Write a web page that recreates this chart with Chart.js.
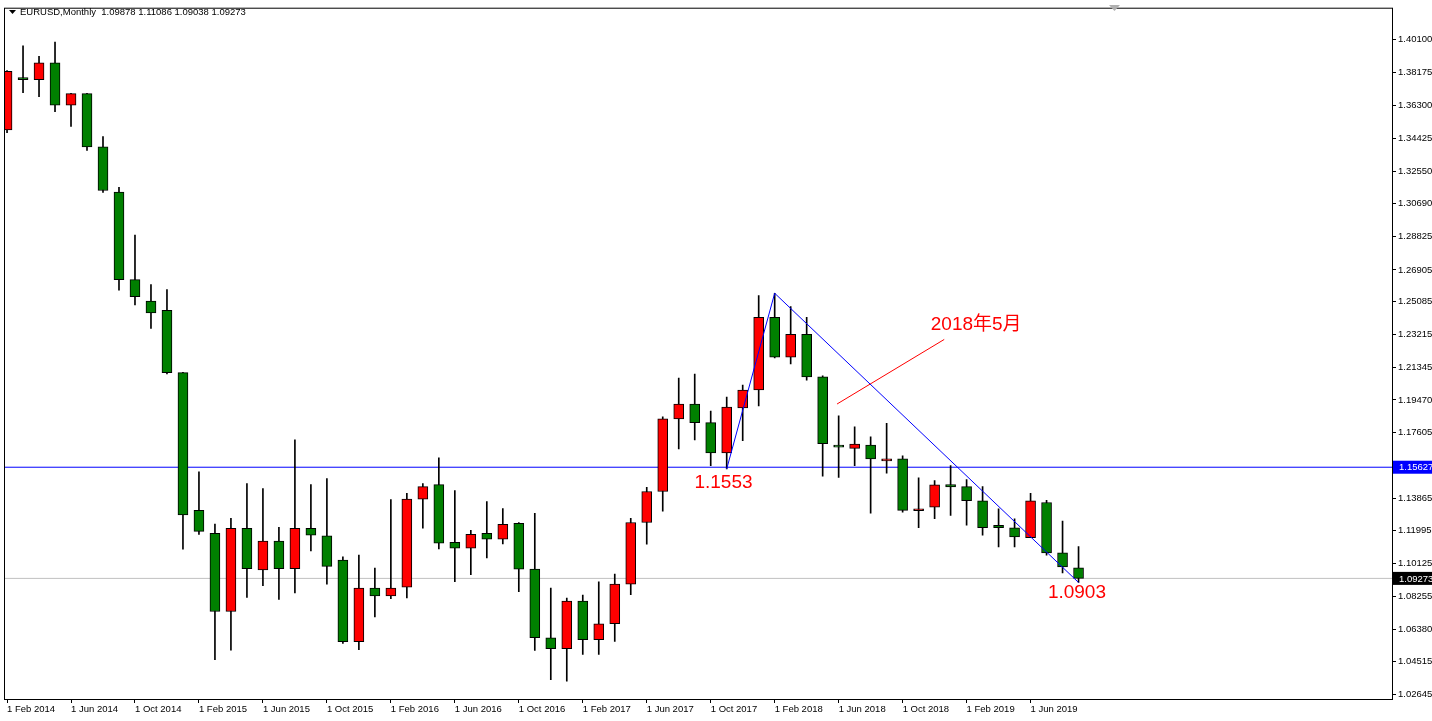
<!DOCTYPE html>
<html>
<head>
<meta charset="utf-8">
<script src="https://cdn.jsdelivr.net/npm/chart.js@4"></script>
<style>
  html, body { margin: 0; padding: 0; background: #fff; }
  canvas { display: block; }
</style>
</head>
<body>
<canvas id="c" width="1432" height="721"></canvas>
<script>
// monthly EURUSD, Feb 2014 .. Sep 2019
const opens  = [1.3491,1.3789,1.3777,1.3874,1.3632,1.3698,1.3394,1.3135,1.2635,1.2512,1.2460,1.2103,
                1.1316,1.1185,1.0738,1.1213,1.0976,1.1141,1.0983,1.1213,1.1170,1.1032,1.0565,1.0872,
                1.0827,1.0877,1.1380,1.1463,1.1134,1.1100,1.1185,1.1151,1.1242,1.0980,1.0588,1.0525,
                1.0798,1.0577,1.0668,1.0895,1.1247,1.1424,1.1839,1.1924,1.1818,1.1645,1.1901,1.2004,
                1.2419,1.2191,1.2322,1.2079,1.1689,1.1670,1.1689,1.1599,1.1610,1.1314,1.1334,1.1463,
                1.1452,1.1371,1.1230,1.1217,1.1160,1.1361,1.1073,1.09878];
const highs  = [1.3830,1.3971,1.3911,1.3993,1.3700,1.3700,1.3453,1.3163,1.2890,1.2606,1.2578,1.2105,
                1.1537,1.1238,1.1270,1.1469,1.1441,1.1219,1.1719,1.1464,1.1498,1.1051,1.1060,1.0986,
                1.1378,1.1414,1.1469,1.1617,1.1429,1.1202,1.1367,1.1327,1.1247,1.1299,1.0872,1.0815,
                1.0832,1.0908,1.0952,1.1270,1.1448,1.1850,1.2072,1.2095,1.1884,1.1964,1.2032,1.2544,
                1.2557,1.2481,1.2419,1.2085,1.1856,1.1793,1.1736,1.1814,1.1628,1.1502,1.1486,1.1572,
                1.1492,1.1452,1.1325,1.1268,1.1414,1.1373,1.1255,1.11086];
const lows   = [1.3475,1.3703,1.3681,1.3595,1.3510,1.3374,1.3133,1.2575,1.2490,1.2356,1.2096,1.1094,
                1.1179,1.0463,1.0517,1.0818,1.0886,1.0807,1.0844,1.1085,1.0895,1.0556,1.0520,1.0707,
                1.0811,1.0815,1.1215,1.1096,1.0908,1.0948,1.1045,1.1124,1.0851,1.0516,1.0349,1.0340,
                1.0493,1.0493,1.0567,1.0834,1.1123,1.1312,1.1668,1.1719,1.1572,1.1553,1.1714,1.1913,
                1.2187,1.2153,1.2060,1.1511,1.1505,1.1572,1.1300,1.1528,1.1306,1.1217,1.1268,1.1287,
                1.1231,1.1174,1.1107,1.1107,1.1160,1.1060,1.0958,1.09038];
const closes = [1.3826,1.3777,1.3874,1.3632,1.3698,1.3394,1.3144,1.2635,1.2538,1.2444,1.2103,1.1290,
                1.1196,1.0738,1.1213,1.0983,1.1141,1.0983,1.1213,1.1174,1.0996,1.0565,1.0872,1.0827,
                1.0872,1.1380,1.1452,1.1128,1.1100,1.1179,1.1151,1.1236,1.0980,1.0588,1.0525,1.0798,
                1.0577,1.0668,1.0895,1.1247,1.1424,1.1839,1.1924,1.1818,1.1645,1.1907,1.2004,1.2419,
                1.2191,1.2322,1.2079,1.1697,1.1678,1.1695,1.1610,1.1610,1.1316,1.1325,1.1462,1.1450,
                1.1371,1.1217,1.1217,1.1164,1.1371,1.1073,1.0993,1.09273];

const xTickIdx = [0,4,8,12,16,20,24,28,32,36,40,44,48,52,56,60,64];
const xTickLabels = ["1 Feb 2014","1 Jun 2014","1 Oct 2014","1 Feb 2015","1 Jun 2015","1 Oct 2015",
                     "1 Feb 2016","1 Jun 2016","1 Oct 2016","1 Feb 2017","1 Jun 2017","1 Oct 2017",
                     "1 Feb 2018","1 Jun 2018","1 Oct 2018","1 Feb 2019","1 Jun 2019"];
const yTicks = [1.40100,1.38175,1.36300,1.34425,1.32550,1.30690,1.28825,1.26905,1.25085,1.23215,1.21345,
                1.19470,1.17605,1.15735,1.13865,1.11995,1.10125,1.08255,1.06380,1.04515,1.02645];

const X_MIN = -0.19, X_MAX = 86.6;
const levelLine = 1.15627;
const lastPrice = 1.09273;
const trendPts = [{x: 45, y: 1.1553}, {x: 48, y: 1.2557}, {x: 67, y: 1.0904}];
const arrowPts = [{x: 51.9, y: 1.1924}, {x: 58.6, y: 1.2293}];
const notes = [
  {x: 44.8, y: 1.1475, text: "1.1553"},
  {x: 66.9, y: 1.0844, text: "1.0903"},
  {x: 60.6, y: 1.2379, text: "2018年5月"}
];

const UP = "#ff0000", DOWN = "#008000";
const bodyColors = opens.map((o, i) => closes[i] >= o ? UP : DOWN);
const AXIS_FONT = { family: "'Liberation Sans'", size: 9.5 };

const mtPlugin = {
  id: "mt",
  beforeDraw: chart => {
    const ctx = chart.ctx;
    ctx.save();
    ctx.fillStyle = "#fff";
    ctx.fillRect(0, 0, chart.width, chart.height);
    ctx.restore();
  },
  afterDatasetsDraw: chart => {
    const ctx = chart.ctx, a = chart.chartArea;
    const xs = chart.scales.x, ys = chart.scales.y;
    ctx.save();
    // frame
    ctx.strokeStyle = "#000";
    ctx.lineWidth = 1;
    ctx.strokeRect(a.left + 0.5, a.top + 0.5, a.right - a.left, a.bottom - a.top);
    // price boxes
    ctx.font = "9.5px 'Liberation Sans'";
    ctx.textBaseline = "middle";
    ctx.textAlign = "left";
    const box = (v, bg) => {
      const y = ys.getPixelForValue(v);
      ctx.fillStyle = bg;
      ctx.fillRect(a.right + 1, y - 6.5, chart.width - a.right, 13);
      ctx.fillStyle = "#fff";
      ctx.fillText(v.toFixed(5), a.right + 7, y + 0.5);
    };
    box(levelLine, "#0000ff");
    box(lastPrice, "#000");
    // notes
    ctx.fillStyle = "#ff0000";
    ctx.font = "19px 'Liberation Sans', 'Noto Sans CJK SC'";
    ctx.textAlign = "center";
    notes.forEach(n => ctx.fillText(n.text, xs.getPixelForValue(n.x), ys.getPixelForValue(n.y)));
    // header
    ctx.fillStyle = "#000";
    ctx.beginPath(); ctx.moveTo(9, 10); ctx.lineTo(16, 10); ctx.lineTo(12.5, 14); ctx.closePath(); ctx.fill();
    ctx.font = "9.5px 'Liberation Sans'";
    ctx.textAlign = "left";
    ctx.fillText("EURUSD,Monthly  1.09878 1.11086 1.09038 1.09273", 20, 12.5);
    ctx.fillStyle = "#b0b0b0";
    ctx.beginPath(); ctx.moveTo(1109, 5); ctx.lineTo(1120, 5); ctx.lineTo(1114.5, 11); ctx.closePath(); ctx.fill();
    ctx.restore();
  }
};

const hLine = (v, col) => ({
  type: "line",
  data: [{x: X_MIN, y: v}, {x: X_MAX, y: v}],
  borderColor: col,
  borderWidth: 1,
  pointRadius: 0,
  order: 3
});

new Chart(document.getElementById("c"), {
  type: "bar",
  data: {
    datasets: [
      {
        label: "body",
        data: opens.map((o, i) => ({x: i, y: [o, closes[i]]})),
        backgroundColor: bodyColors,
        borderColor: "#000",
        borderWidth: 1,
        borderSkipped: false,
        barThickness: 10,
        grouped: false,
        order: 1
      },
      {
        label: "wick",
        data: highs.map((h, i) => ({x: i, y: [lows[i], h]})),
        backgroundColor: "#000",
        borderWidth: 0,
        barThickness: 1,
        grouped: false,
        order: 2
      },
      hLine(levelLine, "#0000ff"),
      hLine(lastPrice, "#c0c0c0"),
      {
        type: "line",
        label: "trend",
        data: trendPts,
        borderColor: "#0000ff",
        borderWidth: 1,
        pointRadius: 0,
        order: 0
      },
      {
        type: "line",
        label: "arrow",
        data: arrowPts,
        borderColor: "#ff0000",
        borderWidth: 1,
        pointRadius: 0,
        order: 0
      }
    ]
  },
  options: {
    responsive: false,
    animation: false,
    devicePixelRatio: 1,
    layout: { padding: { left: 4, top: 4, right: 0, bottom: 0 } },
    plugins: { legend: { display: false }, tooltip: { enabled: false } },
    scales: {
      x: {
        type: "linear",
        offset: false,
        min: X_MIN,
        max: X_MAX,
        afterBuildTicks: s => { s.ticks = xTickIdx.map(v => ({ value: v })); },
        afterFit: s => { s.height = 22; },
        grid: { drawOnChartArea: false, offset: false, color: "#000", tickLength: 4 },
        border: { display: false },
        ticks: {
          align: "start",
          padding: 1,
          maxRotation: 0,
          autoSkip: false,
          color: "#000",
          font: AXIS_FONT,
          callback: v => xTickLabels[xTickIdx.indexOf(v)]
        }
      },
      y: {
        position: "right",
        min: 1.0238,
        max: 1.4189,
        afterBuildTicks: s => { s.ticks = yTicks.map(v => ({ value: v })); },
        afterFit: s => { s.width = 40; },
        grid: { drawOnChartArea: false, color: "#000", tickLength: 4 },
        border: { display: false },
        ticks: {
          padding: 2,
          autoSkip: false,
          color: "#000",
          font: AXIS_FONT,
          callback: v => v.toFixed(5)
        }
      }
    }
  },
  plugins: [mtPlugin]
});
</script>
</body>
</html>
